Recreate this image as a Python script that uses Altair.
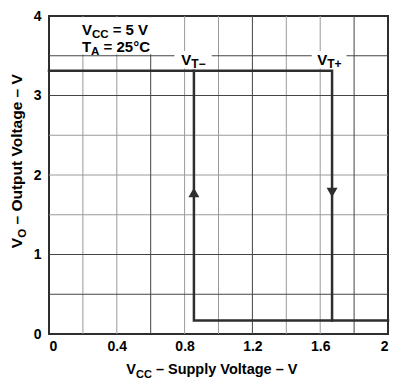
import altair as alt
import pandas as pd

# ---------------- data ----------------
x_ticks = [0, 0.4, 0.8, 1.2, 1.6, 2.0]
y_ticks = [0, 1, 2, 3, 4]
x_grid_dark = [0.6, 1.2, 1.8]
x_grid_light = [0.2, 0.4, 0.8, 1.0, 1.4, 1.6]
y_grid_dark = [0.5, 1.0, 3.0, 3.5]
y_grid_light = [1.5, 2.0, 2.5]

# output voltage trace (V_O vs V_CC), hysteresis loop
path_x = [0.0, 1.67, 1.67, 2.0]
path_y = [3.31, 3.31, 0.17, 0.17]
branch_x = [0.855, 0.855, 1.67]
branch_y = [3.31, 0.17, 0.17]
arrow_x = [0.855, 1.67]
arrow_y = [1.78, 1.78]
arrow_dir = ["triangle-up", "triangle-down"]

# ---------------- styling ----------------
W, H = 339, 318
PAD = {"left": 41, "top": 8, "right": 2, "bottom": 44}
FONT = "Liberation Sans"
INK = "#2e2e2e"
DARK_GRID = "#444444"
LIGHT_GRID = "#9a9a9a"

AW = {"V": 667, "C": 722, "T": 611, "A": 722, "O": 778, "−": 584, "+": 584, " ": 278}


def tw(s, size):
    return sum(AW.get(c, 600) for c in s) * size / 1000.0


xs = alt.Scale(domain=[0, 2], nice=False, zero=False)
ys = alt.Scale(domain=[0, 4], nice=False, zero=False)

xaxis = alt.Axis(values=x_ticks, format="~g", title=None, grid=False, ticks=False, domain=False,
                 labelFont=FONT, labelFontWeight="bold", labelFontSize=14, labelColor="black",
                 labelPadding=5, labelFlush=True)
yaxis = alt.Axis(values=y_ticks, format="~g", title=None, grid=False, ticks=False, domain=False,
                 labelFont=FONT, labelFontWeight="bold", labelFontSize=14, labelColor="black",
                 labelPadding=8, labelFlush=False)


def X(f, **kw):
    return alt.X(f, scale=xs, axis=xaxis, **kw)


def Y(f, **kw):
    return alt.Y(f, scale=ys, axis=yaxis, **kw)


def vrules(vals, color):
    return alt.Chart(pd.DataFrame({"gx": vals})).mark_rule(color=color, strokeWidth=1).encode(
        x=X("gx:Q"))


def hrules(vals, color):
    return alt.Chart(pd.DataFrame({"gy": vals})).mark_rule(color=color, strokeWidth=1).encode(
        y=Y("gy:Q"))


def white_box(x0, x1, y0, y1):
    return alt.Chart(pd.DataFrame({"a": [x0], "b": [x1], "c": [y0], "d": [y1]})).mark_rect(
        color="white").encode(x=X("a:Q"), x2="b:Q", y=Y("c:Q"), y2="d:Q")


def piece(x, y, text, size, dx=0.0, dy=0.0):
    return alt.Chart(pd.DataFrame({"x": [x], "y": [y], "t": [text]})).mark_text(
        align="left", baseline="alphabetic", font=FONT, fontWeight="bold",
        fontSize=size, dx=dx, dy=dy, color="black").encode(x=X("x:Q"), y=Y("y:Q"), text="t:N")


def sublabel(x, y, main, sub, rest, size, subsize, subdy):
    w1 = tw(main, size)
    w2 = tw(sub, subsize)
    out = [piece(x, y, main, size), piece(x, y, sub, subsize, dx=w1, dy=subdy)]
    if rest:
        out.append(piece(x, y, rest, size, dx=w1 + w2 + tw(" ", size)))
    return out


def ptext(px, py, text, size, dx=0.0, dy=0.0, angle=0):
    kw = dict(align="left", baseline="alphabetic", font=FONT, fontWeight="bold",
              fontSize=size, dx=dx, dy=dy, color="black", text=text)
    if angle:
        kw["angle"] = angle
    return alt.Chart(pd.DataFrame({"a": [0]})).mark_text(**kw).encode(
        x=alt.value(px), y=alt.value(py))


def ptitle(px, py, main, sub, rest, size, subsize, subdy, angle=0):
    w1 = tw(main, size)
    w2 = tw(sub, subsize)
    return [ptext(px, py, main, size, angle=angle),
            ptext(px, py, sub, subsize, dx=w1, dy=subdy, angle=angle),
            ptext(px, py, rest, size, dx=w1 + w2 + tw(" ", size), angle=angle)]


# axes layer (invisible points carrying the axes)
axes = alt.Chart(pd.DataFrame({"x": [0, 2], "y": [0, 4]})).mark_point(opacity=0).encode(
    x=X("x:Q"), y=Y("y:Q"))

grid = [vrules(x_grid_light, LIGHT_GRID), hrules(y_grid_light, LIGHT_GRID),
        vrules(x_grid_dark, DARK_GRID), hrules(y_grid_dark, DARK_GRID)]

boxes = [white_box(0.01, 0.75, 3.52, 3.985),
         white_box(0.74, 0.96, 3.34, 3.56),
         white_box(1.55, 1.755, 3.34, 3.56)]

trace_df = pd.DataFrame({
    "vcc": path_x + branch_x,
    "vo": path_y + branch_y,
    "seg": ["a"] * len(path_x) + ["b"] * len(branch_x),
    "k": list(range(len(path_x))) + list(range(len(branch_x))),
})
trace = alt.Chart(trace_df).mark_line(color=INK, strokeWidth=2.5, strokeJoin="miter", strokeCap="square").encode(
    x=X("vcc:Q"), y=Y("vo:Q"), detail="seg:N", order="k:Q")

arrows = alt.Chart(pd.DataFrame({"vcc": arrow_x, "vo": arrow_y, "s": arrow_dir})).mark_point(
    filled=True, size=120, color=INK, opacity=1).encode(
    x=X("vcc:Q"), y=Y("vo:Q"), shape=alt.Shape("s:N", scale=None))

labels = []
labels += sublabel(0.194, 3.763, "V", "CC", "= 5 V", 15, 11.5, 3.5)
labels += sublabel(0.194, 3.55, "T", "A", "= 25°C", 15, 11.5, 3.5)
labels += sublabel(0.78, 3.385, "V", "T−", "", 15, 12, 3.5)
labels += sublabel(1.582, 3.385, "V", "T+", "", 15, 12, 3.5)

# axis titles with subscripts
xtitle = ptitle(0.228 * W, H + 40, "V", "CC", "– Supply Voltage – V", 14.5, 11, 3.5)
ytitle = ptitle(-27, 0.73 * H, "V", "O", "– Output Voltage – V", 15.5, 11.5, 3.5, angle=270)

chart = alt.layer(axes, *grid, *boxes, trace, arrows, *labels, *xtitle, *ytitle).properties(
    width=W, height=H, padding=PAD, autosize=alt.AutoSizeParams(type="none"),
    background="white",
).configure_view(stroke=INK, strokeWidth=2)

chart.save("out.html", embed_options={"renderer": "svg", "actions": False})
